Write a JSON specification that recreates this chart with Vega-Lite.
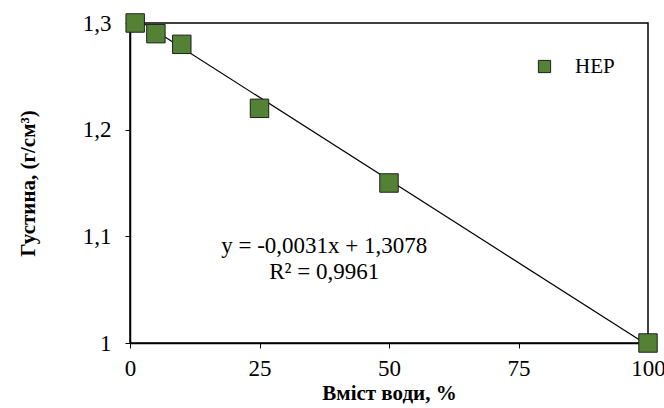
{
  "$schema": "https://vega.github.io/schema/vega-lite/v6.json",
  "width": 518,
  "height": 320,
  "autosize": "none",
  "padding": {"left": 130, "top": 23, "right": 16, "bottom": 65},
  "config": {
    "font": "'Liberation Serif', 'DejaVu Serif', serif",
    "view": {"stroke": "black", "strokeWidth": 1.5},
    "axis": {
      "domainColor": "black", "domainWidth": 1.5, "tickColor": "black", "tickSize": 5,
      "labelFont": "'Liberation Serif', 'DejaVu Serif', serif", "labelFontSize": 23, "labelColor": "black",
      "titleFont": "'Liberation Serif', 'DejaVu Serif', serif", "titleFontSize": 21, "titleFontWeight": "bold", "titleColor": "black",
      "grid": false, "labelFlush": false
    }
  },
  "datasets": {
    "pts": [
      {"x": 1, "y": 1.3, "s": "HEP"},
      {"x": 5, "y": 1.29, "s": "HEP"},
      {"x": 10, "y": 1.28, "s": "HEP"},
      {"x": 25, "y": 1.22, "s": "HEP"},
      {"x": 50, "y": 1.15, "s": "HEP"},
      {"x": 100, "y": 1.0, "s": "HEP"}
    ],
    "trend": [
      {"x": 1, "y": 1.3047},
      {"x": 100, "y": 0.9978}
    ],
    "ann": [
      {"x": 37.5, "y": 1.091, "t": "y = -0,0031x + 1,3078"},
      {"x": 37.5, "y": 1.067, "t": "R² = 0,9961"}
    ]
  },
  "layer": [
    {
      "data": {"name": "trend"},
      "mark": {"type": "line", "color": "black", "strokeWidth": 1.2, "clip": true},
      "encoding": {
        "x": {"field": "x", "type": "quantitative", "scale": {"domain": [0, 100], "nice": false},
          "axis": {"values": [0, 25, 50, 75, 100], "title": "Вміст води, %", "titlePadding": 2, "labelPadding": 9}},
        "y": {"field": "y", "type": "quantitative", "scale": {"domain": [1, 1.3], "nice": false, "zero": false},
          "axis": {"values": [1, 1.1, 1.2, 1.3], "labelExpr": "replace(format(datum.value, '~g'), '.', ',')",
            "title": "Густина, (г/см³)", "titlePadding": 44, "labelPadding": 14}}
      }
    },
    {
      "data": {"name": "pts"},
      "mark": {"type": "point", "shape": "square", "filled": true, "size": 340, "stroke": "#1f1f1f", "strokeWidth": 1, "opacity": 1, "clip": false},
      "encoding": {
        "x": {"field": "x", "type": "quantitative"},
        "y": {"field": "y", "type": "quantitative"},
        "color": {"field": "s", "type": "nominal", "scale": {"range": ["#548235"]},
          "legend": {"title": null, "orient": "none", "legendX": 404, "legendY": 33, "symbolType": "square", "symbolSize": 150,
            "symbolStrokeColor": "#1f1f1f", "symbolStrokeWidth": 1, "labelFont": "'Liberation Serif', 'DejaVu Serif', serif", "labelFontSize": 21, "labelColor": "black", "labelOffset": 20}}
      }
    },
    {
      "data": {"name": "ann"},
      "mark": {"type": "text", "fontSize": 23, "font": "'Liberation Serif', 'DejaVu Serif', serif", "color": "black", "align": "center", "baseline": "middle"},
      "encoding": {
        "x": {"field": "x", "type": "quantitative"},
        "y": {"field": "y", "type": "quantitative"},
        "text": {"field": "t"}
      }
    }
  ]
}
